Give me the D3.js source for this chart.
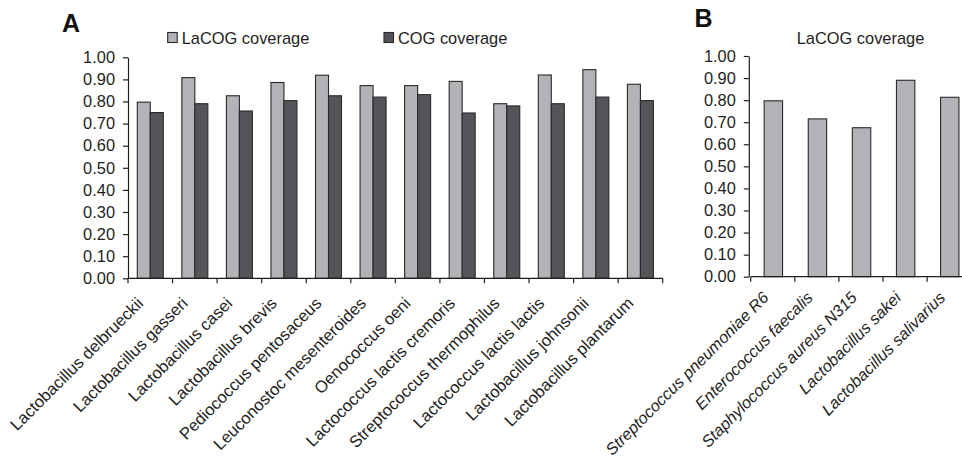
<!DOCTYPE html>
<html>
<head>
<meta charset="utf-8">
<script src="https://cdn.jsdelivr.net/npm/d3@7"></script>
<style>
  html, body { margin: 0; padding: 0; background: #fff; }
  svg { display: block; font-family: "Liberation Sans", Arial, sans-serif; }
</style>
</head>
<body>
<svg id="chart" width="962" height="463"></svg>
<script>
// Panel A: LAB genomes, LaCOG vs COG coverage
const genomesA = [
  "Lactobacillus delbrueckii", "Lactobacillus gasseri", "Lactobacillus casei",
  "Lactobacillus brevis", "Pediococcus pentosaceus", "Leuconostoc mesenteroides",
  "Oenococcus oeni", "Lactococcus lactis cremoris", "Streptococcus thermophilus",
  "Lactococcus lactis lactis", "Lactobacillus johnsonii", "Lactobacillus plantarum"
];
const lacogCoverageA = [0.797, 0.908, 0.826, 0.886, 0.919, 0.872, 0.872, 0.891, 0.790, 0.920, 0.944, 0.878];
const cogCoverageA   = [0.750, 0.790, 0.757, 0.804, 0.826, 0.820, 0.831, 0.748, 0.780, 0.790, 0.820, 0.804];
const seriesA = ["LaCOG coverage", "COG coverage"];

// Panel B: genomes outside the LaCOG set
const genomesB = [
  "Streptococcus pneumoniae R6", "Enterococcus faecalis", "Staphylococcus aureus N315",
  "Lactobacillus sakei", "Lactobacillus salivarius"
];
const lacogCoverageB = [0.797, 0.715, 0.675, 0.890, 0.813];

const yTicks = [0, 0.1, 0.2, 0.3, 0.4, 0.5, 0.6, 0.7, 0.8, 0.9, 1.0];

const LIGHT = "#b2b3b7", DARK = "#545558", EDGE = "#2a2a2a", INK = "#1e1e1e";
const fmt = d3.format(".2f");
const svg = d3.select("#chart");

function drawYAxis(g, y) {
  const ax = g.append("g").attr("transform", `translate(${y.axisX},0)`)
    .call(d3.axisLeft(y).tickValues(yTicks).tickFormat(fmt).tickSize(5).tickSizeOuter(0).tickPadding(8));
  ax.select(".domain").attr("stroke", INK).attr("stroke-width", 1.2);
  ax.selectAll(".tick line").attr("stroke", INK).attr("stroke-width", 1.2);
  ax.selectAll(".tick text").attr("fill", INK).style("font-size", "16.4px").style("font-family", "'Liberation Sans', Arial, sans-serif");
}

function drawXAxis(g, x, y, cats) {
  const y0 = y(0);
  const [r0, r1] = x.range();
  g.append("line").attr("x1", r0).attr("x2", r1).attr("y1", y0).attr("y2", y0)
    .attr("stroke", INK).attr("stroke-width", 1.2);
  const bounds = cats.map(c => x(c)).concat([x(cats[cats.length - 1]) + x.bandwidth()]);
  g.selectAll(null).data(bounds).join("line")
    .attr("x1", d => d).attr("x2", d => d).attr("y1", y0).attr("y2", y0 + 5)
    .attr("stroke", INK).attr("stroke-width", 1.2);
}

function drawLabels(g, x, y, cats, italic, dx, dy, size) {
  g.selectAll(null).data(cats).join("text")
    .attr("transform", d => `translate(${x(d) + x.bandwidth() / 2 + dx},${y(0) + dy}) rotate(-45)`)
    .attr("text-anchor", "end")
    .attr("fill", INK)
    .style("font-size", size + "px")
    .style("font-style", italic ? "italic" : "normal")
    .text(d => d);
}

// ---------- Panel A ----------
const gA = svg.append("g");
const yA = d3.scaleLinear().domain([0, 1]).range([278.3, 57.3]);
yA.axisX = 128;
const xA = d3.scaleBand().domain(genomesA).range([128, 662.7]).paddingInner(0).paddingOuter(0);
const xA1 = d3.scaleBand().domain(seriesA)
  .range([xA.bandwidth() / 2 - 13, xA.bandwidth() / 2 + 13]);

const rowsA = genomesA.map((g, i) => ({ g, vals: [lacogCoverageA[i], cogCoverageA[i]] }));
gA.selectAll("g.grp").data(rowsA).join("g").attr("class", "grp")
  .attr("transform", d => `translate(${xA(d.g)},0)`)
  .selectAll("rect").data(d => d.vals.map((v, k) => ({ s: seriesA[k], v })))
  .join("rect")
  .attr("x", d => xA1(d.s)).attr("width", xA1.bandwidth())
  .attr("y", d => yA(d.v)).attr("height", d => yA(0) - yA(d.v))
  .attr("fill", d => d.s === seriesA[0] ? LIGHT : DARK)
  .attr("stroke", EDGE).attr("stroke-width", 1.1);

drawYAxis(gA, yA);
drawXAxis(gA, xA, yA, genomesA);
drawLabels(gA, xA, yA, genomesA, false, -6, 26, 16.6);

// legend A
const legA = [{ name: seriesA[0], x: 167.7, fill: LIGHT }, { name: seriesA[1], x: 384, fill: DARK }];
const lg = gA.selectAll("g.leg").data(legA).join("g").attr("class", "leg")
  .attr("transform", d => `translate(${d.x},32.5)`);
lg.append("rect").attr("width", 9.5).attr("height", 10).attr("fill", d => d.fill)
  .attr("stroke", EDGE).attr("stroke-width", 1.1);
lg.append("text").attr("x", 14).attr("y", 11).attr("fill", INK)
  .style("font-size", "16.4px").text(d => d.name);

gA.append("text").attr("x", 62).attr("y", 32.3).attr("fill", "#111")
  .style("font-size", "25px").style("font-weight", "bold").text("A");

// ---------- Panel B ----------
const gB = svg.append("g");
const yB = d3.scaleLinear().domain([0, 1]).range([276.7, 56]);
yB.axisX = 748.8;
const xB = d3.scaleBand().domain(genomesB).range([750.7, 750.7 + 5 * 44.1]).paddingInner(0).paddingOuter(0);
const barWB = 18.4;

gB.selectAll("rect.bar").data(genomesB.map((g, i) => ({ g, v: lacogCoverageB[i] })))
  .join("rect").attr("class", "bar")
  .attr("x", d => xB(d.g) + xB.bandwidth() / 2 - barWB / 2 + 0.6).attr("width", barWB)
  .attr("y", d => yB(d.v)).attr("height", d => yB(0) - yB(d.v))
  .attr("fill", LIGHT).attr("stroke", EDGE).attr("stroke-width", 1.1);

drawYAxis(gB, yB);
drawXAxis(gB, xB, yB, genomesB);
drawLabels(gB, xB, yB, genomesB, true, -3, 22, 16.3);

gB.append("text").attr("x", 860.5).attr("y", 44).attr("text-anchor", "middle").attr("fill", INK)
  .style("font-size", "16.4px").text("LaCOG coverage");

gB.append("text").attr("x", 694.5).attr("y", 27.3).attr("fill", "#111")
  .style("font-size", "25px").style("font-weight", "bold").text("B");
</script>
</body>
</html>
